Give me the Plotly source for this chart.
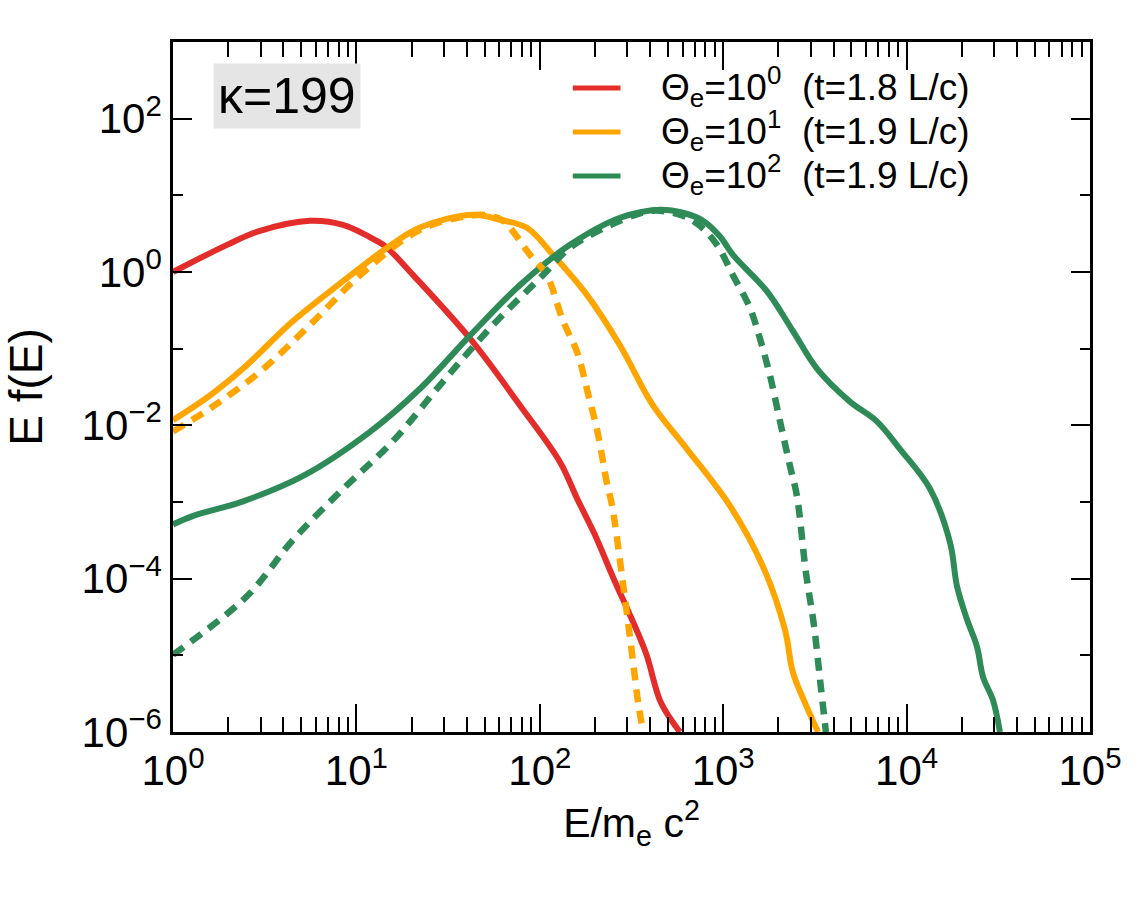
import plotly.graph_objects as go

# ---- data (E/m_e c^2, E f(E)) ----
red_E = [1.0, 1.97, 2.98, 5.58, 8.45, 12.9, 14.7, 20.4, 41.6, 78.0, 129, 160, 198, 257, 295, 379, 458, 581]
red_f = [1.0, 2.26, 3.44, 4.66, 4.13, 2.55, 2.07, 0.91, 0.136, 0.0182, 0.00331, 0.0011, 3.9e-4, 9.1e-5, 4.4e-5, 1.07e-5, 2.4e-6, 1.0e-6]

orange_E = [1.0, 1.59, 2.41, 4.51, 8.45, 14.7, 22.2, 43.3, 60.7, 85.1, 118, 181, 274, 414, 635, 1089, 1667, 2173, 2399, 2793, 3289]
orange_f = [0.0117, 0.0245, 0.055, 0.229, 0.759, 2.07, 3.8, 5.58, 4.8, 3.77, 1.67, 0.50, 0.110, 0.0182, 0.0049, 8.9e-4, 1.35e-4, 2.14e-5, 6.0e-6, 2.4e-6, 1.0e-6]

orange_fit_E = [1.0, 1.59, 2.98, 5.58, 10.5, 22.2, 43.3, 53.5, 63.1, 88.5, 109, 134, 160, 183, 207, 232, 248, 284, 318, 344, 366]
orange_fit_f = [0.0083, 0.0166, 0.050, 0.204, 0.91, 3.55, 5.5, 5.4, 4.66, 1.67, 0.91, 0.229, 0.089, 0.0263, 0.0079, 0.00178, 8.9e-4, 8.7e-5, 1.07e-5, 2.4e-6, 1.0e-6]

green_E = [1.0, 1.29, 2.41, 5.12, 11.9, 22.2, 41.6, 78, 146, 274, 452, 603, 776, 961, 1130, 1734, 2399, 3243, 4909, 6902, 9204, 13430, 17260, 18840, 21330, 24210, 26120, 29580, 32280]
green_f = [5.1e-4, 6.6e-4, 1.02e-3, 2.19e-3, 8.3e-3, 0.030, 0.148, 0.676, 2.26, 5.1, 6.5, 5.93, 4.66, 2.9, 1.67, 0.56, 0.17, 0.055, 0.0204, 0.0112, 0.0049, 1.48e-3, 2.95e-4, 7.9e-5, 2.95e-5, 1.29e-5, 5.2e-6, 2.6e-6, 1.0e-6]

green_fit_E = [1.0, 2.53, 4.51, 8.45, 15.8, 29.6, 55.6, 104, 146, 274, 414, 603, 746, 925, 1130, 1400, 1585, 1799, 2042, 2312, 2523, 2825, 3126, 3373, 3631]
green_fit_f = [1.02e-5, 5.9e-5, 3.2e-4, 1.48e-3, 6.2e-3, 0.037, 0.204, 0.91, 2.07, 4.66, 6.3, 5.42, 4.0, 2.26, 0.91, 0.339, 0.136, 0.0447, 0.0112, 2.95e-3, 1.2e-3, 1.2e-4, 2.45e-5, 4.8e-6, 1.0e-6]

legend_labels = [
    "Θ<sub>e</sub>=10<sup>0</sup>\u00a0\u00a0(t=1.8 L/c)",
    "Θ<sub>e</sub>=10<sup>1</sup>\u00a0\u00a0(t=1.9 L/c)",
    "Θ<sub>e</sub>=10<sup>2</sup>\u00a0\u00a0(t=1.9 L/c)",
]
kappa_label = "κ=199"
RED, ORANGE, GREEN = "#e32d2a", "#ffa500", "#2e8b57"
colors = [RED, ORANGE, GREEN]

y_tickvals = [1e-6, 1e-4, 1e-2, 1e0, 1e2]
y_ticktext = ["10<sup>−6</sup>", "10<sup>−4</sup>", "10<sup>−2</sup>", "10<sup>0</sup>", "10<sup>2</sup>"]
x_tickvals = [1e0, 1e1, 1e2, 1e3, 1e4, 1e5]
x_ticktext = ["10<sup>0</sup>", "10<sup>1</sup>", "10<sup>2</sup>", "10<sup>3</sup>", "10<sup>4</sup>", "10<sup>5</sup>"]

FONT = "Liberation Sans, Arial, Helvetica, sans-serif"

fig = go.Figure()
lw = 6
dash = "13px,9px"
sm = 1.0
fig.add_trace(go.Scatter(x=red_E, y=red_f, mode="lines", name=legend_labels[0], showlegend=False,
                         line=dict(color=RED, width=lw, shape="spline", smoothing=sm)))
fig.add_trace(go.Scatter(x=orange_E, y=orange_f, mode="lines", name=legend_labels[1], showlegend=False,
                         line=dict(color=ORANGE, width=lw, shape="spline", smoothing=sm)))
fig.add_trace(go.Scatter(x=green_E, y=green_f, mode="lines", name=legend_labels[2], showlegend=False,
                         line=dict(color=GREEN, width=lw, shape="spline", smoothing=sm)))
fig.add_trace(go.Scatter(x=orange_fit_E, y=orange_fit_f, mode="lines", showlegend=False,
                         line=dict(color=ORANGE, width=6.5, dash=dash, shape="spline", smoothing=sm)))
fig.add_trace(go.Scatter(x=green_fit_E, y=green_fit_f, mode="lines", showlegend=False,
                         line=dict(color=GREEN, width=6.5, dash=dash, shape="spline", smoothing=sm)))

# legend drawn as line samples + labels in paper coordinates
row_y = [0.9333, 0.8696, 0.8058]
shapes = []
annotations = []
for lbl, col, yy in zip(legend_labels, colors, row_y):
    shapes.append(dict(type="line", xref="paper", yref="paper", x0=0.436, x1=0.488,
                       y0=yy, y1=yy, line=dict(color=col, width=5)))
    annotations.append(dict(text=lbl, xref="paper", yref="paper", x=0.531, y=yy + 0.002,
                            xanchor="left", yanchor="middle", showarrow=False, borderpad=0,
                            font=dict(size=37, family=FONT, color="black")))
annotations.append(dict(text=kappa_label, xref="paper", yref="paper", x=0.1243, y=0.922,
                        xanchor="center", yanchor="middle", showarrow=False,
                        font=dict(size=50, family=FONT, color="black"),
                        bgcolor="#e5e5e5", borderpad=4))

fig.update_layout(
    width=1146, height=917,
    margin=dict(l=173, r=56, t=42, b=185),
    paper_bgcolor="white", plot_bgcolor="white",
    font=dict(family=FONT, color="black"),
    showlegend=False,
    shapes=shapes,
    annotations=annotations,
)

fig.update_xaxes(
    type="log", range=[0, 5],
    tickvals=x_tickvals, ticktext=x_ticktext,
    ticks="inside", ticklen=28, tickwidth=2, tickcolor="black",
    minor=dict(ticks="inside", ticklen=15, tickwidth=2, tickcolor="black", dtick="D1"),
    showline=True, linewidth=2.5, linecolor="black", mirror="allticks",
    showgrid=False, zeroline=False,
    tickfont=dict(size=42, family=FONT),
    title=dict(text="E/m<sub>e</sub> c<sup>2</sup>", font=dict(size=41, family=FONT), standoff=8),
)
fig.update_yaxes(
    type="log", range=[-6, 3],
    tickvals=y_tickvals, ticktext=y_ticktext,
    ticks="inside", ticklen=19, tickwidth=2, tickcolor="black",
    minor=dict(ticks="inside", ticklen=10, tickwidth=2, tickcolor="black",
               tickvals=[1e-5, 1e-3, 1e-1, 1e1, 1e3]),
    showline=True, linewidth=2.5, linecolor="black", mirror="allticks",
    showgrid=False, zeroline=False,
    tickfont=dict(size=42, family=FONT),
    title=dict(text="E f(E)", font=dict(size=46, family=FONT), standoff=26),
)

fig.write_html("out.html")
